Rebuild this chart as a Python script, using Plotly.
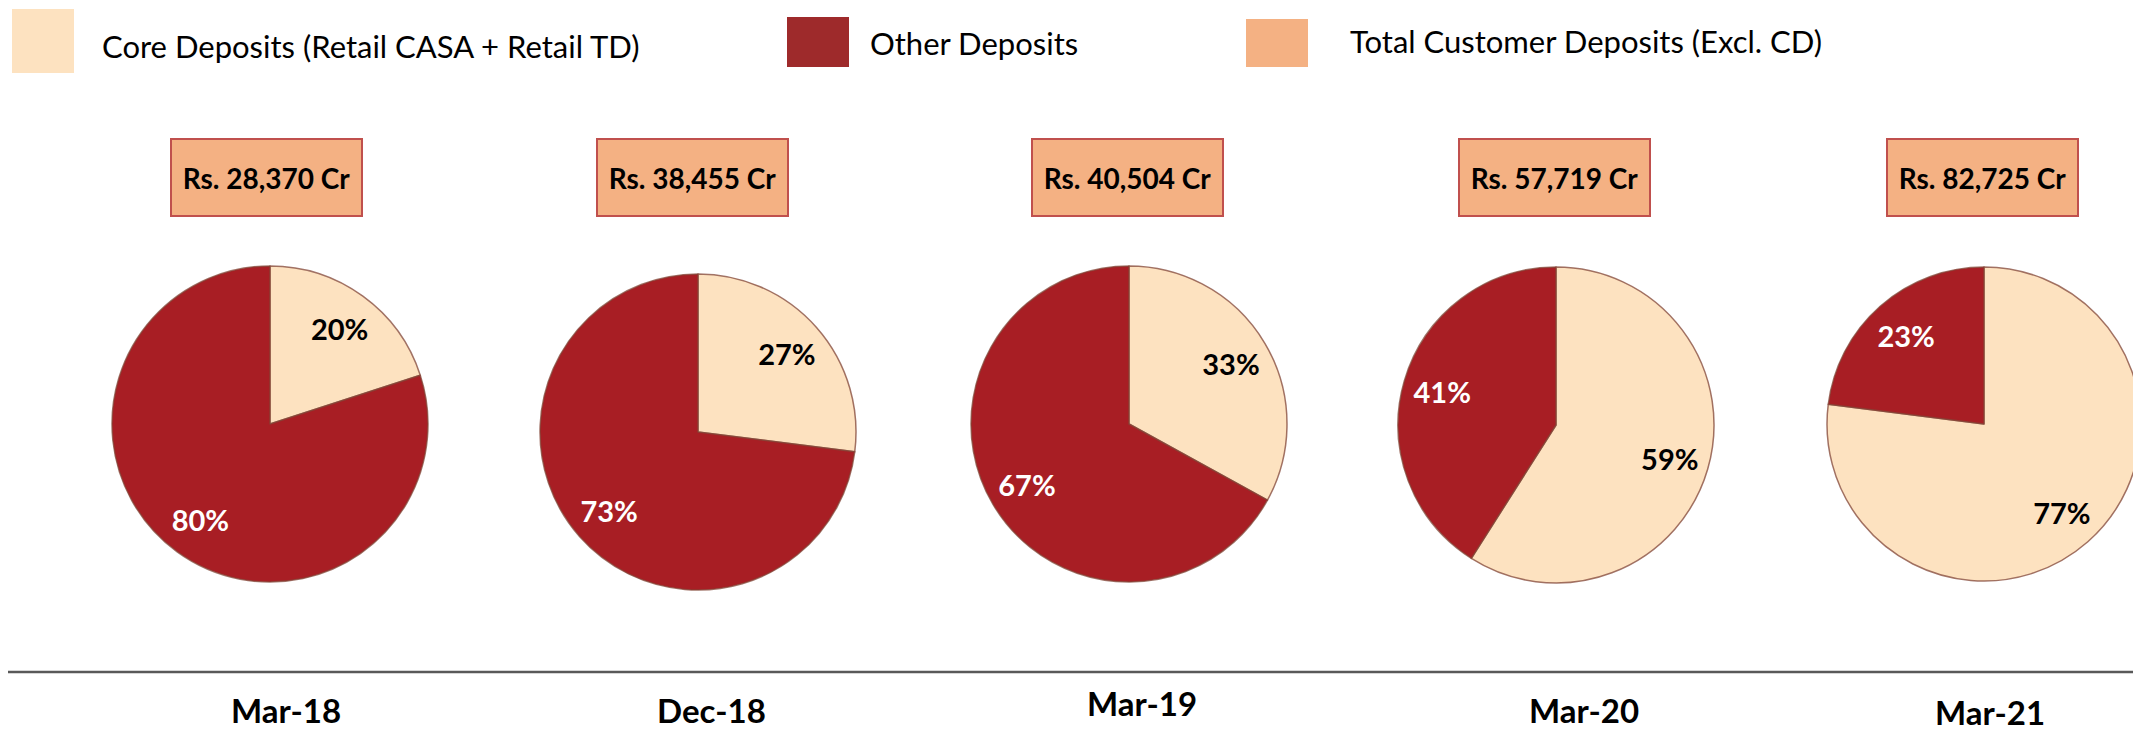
import plotly.graph_objects as go

# ---------------- data ----------------
periods = ["Mar-18", "Dec-18", "Mar-19", "Mar-20", "Mar-21"]
core_pct = [20, 27, 33, 59, 77]
other_pct = [80, 73, 67, 41, 23]
total_deposits_cr = [28370, 38455, 40504, 57719, 82725]
series_names = ["Core Deposits (Retail CASA + Retail TD)", "Other Deposits"]
legend_total = "Total Customer Deposits (Excl. CD)"

# ---------------- layout constants ----------------
W, H = 2141, 731          # browser window
OFF = 8                   # default page body margin
FW, FH = W - OFF, H - OFF  # figure size so it fits the window exactly
FONT = "Lato"
CORE_COLOR = "#FDE2C0"
OTHER_COLOR = "#A81E24"
TOTAL_COLOR = "#F4B183"

# positions in window pixels (from the top-left corner)
pie_cx = [270, 698, 1129, 1556, 1985]
pie_cy = [424, 432, 424, 425, 424]
pie_r = 158
box_cx = [266.5, 692, 1127.5, 1554.5, 1982.5]
box_cy = 177.5
label_cx = [286, 711, 1142, 1584, 1990]
label_cy = [710, 710, 703, 710, 712]


def px_x(x):
    return (x - OFF) / FW


def px_y(y):
    return (H - y) / FH


def domain(cx, cy, r):
    return dict(
        x=[max(0.0, px_x(cx - r)), min(1.0, px_x(cx + r))],
        y=[max(0.0, px_y(cy + r)), min(1.0, px_y(cy - r))],
    )


fig = go.Figure()

for i, p in enumerate(periods):
    dom = domain(pie_cx[i], pie_cy[i], pie_r)
    vals = [core_pct[i], other_pct[i]]
    # coloured pie
    fig.add_trace(go.Pie(
        labels=series_names, values=vals, sort=False, direction="clockwise",
        rotation=0, domain=dom, showlegend=False, textinfo="none",
        marker=dict(colors=[CORE_COLOR, OTHER_COLOR],
                    line=dict(color="rgba(130,70,55,0.75)", width=1.5)),
        hoverinfo="label+percent", name=p,
    ))
    # transparent ring used only to carry the percentage labels further out
    fig.add_trace(go.Pie(
        labels=series_names, values=vals, sort=False, direction="clockwise",
        rotation=0, domain=dom, showlegend=False, hole=0.5,
        marker=dict(colors=["rgba(0,0,0,0)", "rgba(0,0,0,0)"], line=dict(width=0)),
        texttemplate="%{percent:.0%}", textposition="inside",
        insidetextorientation="horizontal",
        textfont=dict(family=FONT, size=29, color=["#000000", "#FFFFFF"], weight="bold"),
        hoverinfo="skip", name=p,
    ))

annotations = []
shapes = []

# total deposit boxes
for i, v in enumerate(total_deposits_cr):
    annotations.append(dict(
        x=px_x(box_cx[i]), y=px_y(box_cy), xref="paper", yref="paper",
        xanchor="center", yanchor="middle", showarrow=False,
        text=f"<b>Rs. {v:,} Cr</b>",
        font=dict(family=FONT, size=28, color="#000000"),
        bgcolor=TOTAL_COLOR, bordercolor="#C0504D", borderwidth=2, borderpad=0,
        width=189, height=75,
    ))

# period labels
for i, p in enumerate(periods):
    annotations.append(dict(
        x=px_x(label_cx[i]), y=px_y(label_cy[i]), xref="paper", yref="paper",
        xanchor="center", yanchor="middle", showarrow=False,
        text=f"<b>{p}</b>", font=dict(family=FONT, size=33, color="#000000"),
    ))

# separator line
shapes.append(dict(type="line", xref="paper", yref="paper", x0=0, x1=1,
                   y0=px_y(672), y1=px_y(672),
                   line=dict(color="#595959", width=2.5)))

# custom legend
legend_items = [
    (series_names[0], CORE_COLOR, (12, 9, 74, 73), 100, 46),
    (series_names[1], "#9E2A2B", (787, 17, 849, 67), 868, 43),
    (legend_total, TOTAL_COLOR, (1246, 19, 1308, 67), 1348, 41),
]
for name, col, (x0, y0, x1, y1), tx, ty in legend_items:
    shapes.append(dict(type="rect", xref="paper", yref="paper",
                       x0=px_x(x0), x1=px_x(x1), y0=px_y(y1), y1=px_y(y0),
                       fillcolor=col, line=dict(width=0)))
    annotations.append(dict(
        x=px_x(tx), y=px_y(ty), xref="paper", yref="paper",
        xanchor="left", yanchor="middle", showarrow=False, text=name,
        font=dict(family=FONT, size=31, color="#000000"),
    ))

fig.update_layout(
    width=FW, height=FH, autosize=False,
    margin=dict(l=0, r=0, t=0, b=0),
    paper_bgcolor="#FFFFFF", plot_bgcolor="#FFFFFF",
    annotations=annotations, shapes=shapes, showlegend=False,
)

fig.write_html("out.html")
